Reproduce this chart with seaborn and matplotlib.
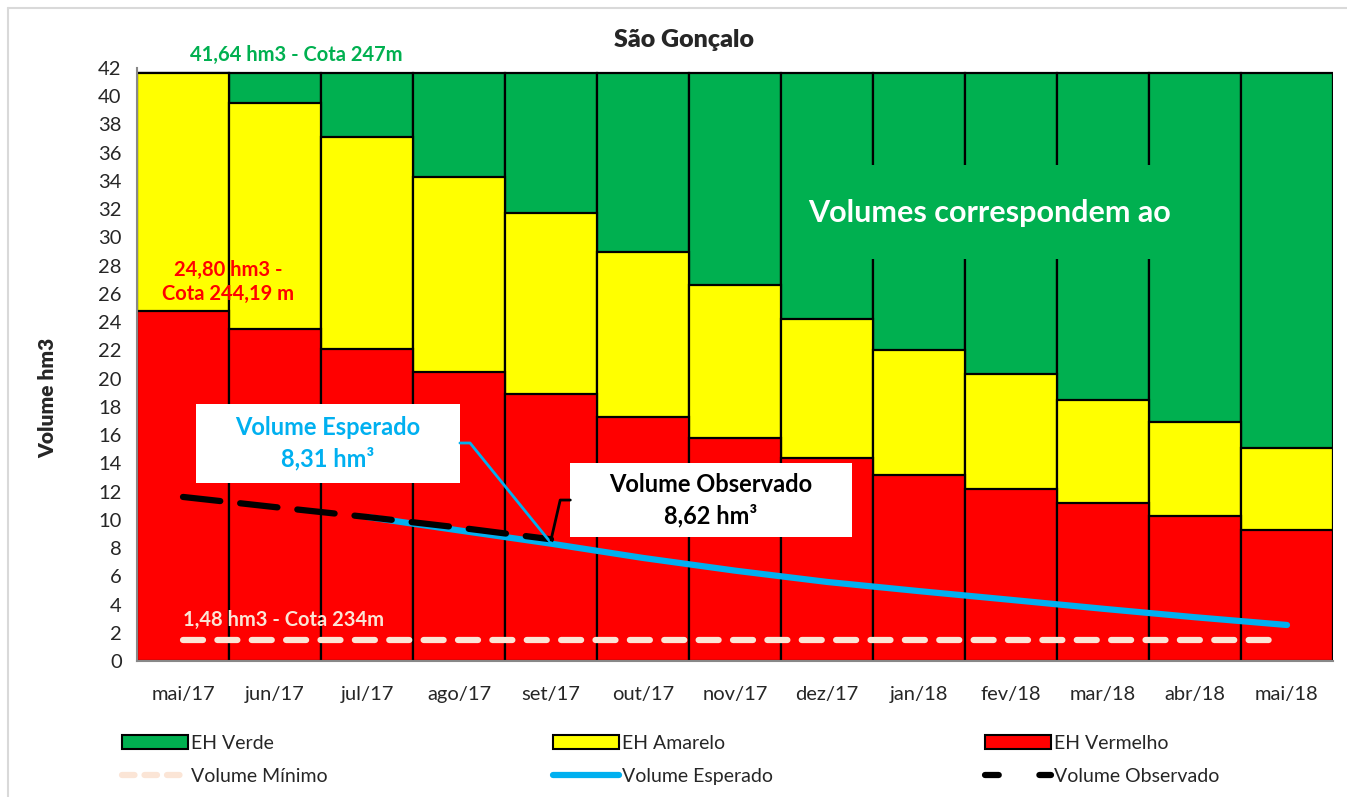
import seaborn as sns
import matplotlib.pyplot as plt
import matplotlib.patches as mpatches
from matplotlib.lines import Line2D
import pandas as pd
import numpy as np

sns.set_style("white")
plt.rcParams["font.family"] = ["Lato", "DejaVu Sans"]

months = ["mai/17", "jun/17", "jul/17", "ago/17", "set/17", "out/17", "nov/17",
          "dez/17", "jan/18", "fev/18", "mar/18", "abr/18", "mai/18"]
eh_vermelho = [24.80, 23.5, 22.1, 20.5, 18.9, 17.3, 15.8, 14.4, 13.2, 12.2, 11.2, 10.3, 9.3]
eh_amarelo_top = [41.64, 39.5, 37.1, 34.3, 31.7, 29.0, 26.6, 24.2, 22.0, 20.3, 18.5, 16.9, 15.1]
eh_verde_top = [41.64] * 13
vol_minimo = 1.48
vol_observado = [11.62, 10.9, 10.2, 9.45, 8.62]          # mai/17 .. set/17
vol_esperado = [10.2, 9.25, 8.31, 7.3, 6.4, 5.6, 4.95, 4.33, 3.7, 3.1, 2.55]  # jul/17 .. mai/18

GREEN = "#00B050"
YELLOW = "#FFFF00"
RED = "#FF0000"
BLUE = "#00B0F0"
PEACH = "#FBE5D6"

df = pd.DataFrame({"mes": months, "vermelho": eh_vermelho,
                   "amarelo": eh_amarelo_top, "verde": eh_verde_top})

fig = plt.figure(figsize=(13.47, 7.97), dpi=100)
ax = fig.add_axes([137 / 1347, 1 - 661 / 797, (1333 - 137) / 1347, (661 - 68) / 797])

for col, c in [("verde", GREEN), ("amarelo", YELLOW), ("vermelho", RED)]:
    sns.barplot(data=df, x="mes", y=col, color=c, width=1, saturation=1,
                edgecolor="black", linewidth=1.6, ax=ax)

pos = np.arange(len(months))
# volume minimo
ax.plot([pos[0], pos[-1] - 0.08], [vol_minimo, vol_minimo], color=PEACH, lw=4.5,
        dashes=(3.2, 2.3), dash_capstyle="round", zorder=5)
# volume esperado
sns.lineplot(x=pos[2:], y=vol_esperado, color=BLUE, lw=4.5, ax=ax, zorder=6,
             solid_capstyle="round")
# volume observado
sns.lineplot(x=pos[:5], y=vol_observado, color="black", lw=4.5, ax=ax, zorder=7,
             dashes=False, linestyle=(0, (6, 3.2)), dash_capstyle="round")

ax.set_xlim(-0.5, len(months) - 0.5)
ax.set_ylim(0, 42)
ax.set_yticks(np.arange(0, 43, 2))
ax.set_xticks(pos)
ax.set_xticklabels(months)
ax.set_xticks(np.arange(-0.5, len(months)), minor=True)
ax.tick_params(axis="x", which="major", length=0, pad=18, labelsize=14.5)
ax.tick_params(axis="x", which="minor", length=7, color="#888888", width=1.5)
ax.tick_params(axis="y", length=7, color="#888888", width=1.5, labelsize=14.5, pad=4)
ax.set_xlabel("")
ax.set_ylabel("")
for s in ["top", "right"]:
    ax.spines[s].set_visible(False)
for s in ["left", "bottom"]:
    ax.spines[s].set_color("#888888")
    ax.spines[s].set_linewidth(1.5)

# annotations
ax.text(0.08, 42.95, "41,64 hm3 - Cota 247m", color=GREEN, fontsize=14.5,
        fontweight="bold", ha="left", va="center", clip_on=False)
ax.text(0.49, 26.85, "24,80 hm3 -\nCota 244,19 m", color=RED, fontsize=14.5,
        fontweight="bold", ha="center", va="center", linespacing=1.25, zorder=8)
ax.text(0.0, 2.9, "1,48 hm3 - Cota 234m", color=PEACH, fontsize=14.5,
        fontweight="bold", ha="left", va="center", zorder=8)

ax.add_patch(mpatches.Rectangle((6.6, 28.5), 4.8, 6.6, facecolor=GREEN,
                                edgecolor="none", zorder=8))
ax.text(6.79, 31.7, "Volumes correspondem ao", color="white", fontsize=22,
        fontweight="bold", ha="left", va="center", zorder=9)

# callouts
ax.add_patch(mpatches.Rectangle((0.141, 12.6), 2.87, 5.6, facecolor="white",
                                edgecolor="none", zorder=9))
ax.text(1.576, 15.45, "Volume Esperado\n8,31 hm³", color=BLUE, fontsize=17,
        fontweight="bold", ha="center", va="center", linespacing=1.4, zorder=10)
ax.plot([3.01, 3.12, pos[4]], [15.44, 15.44, vol_esperado[2] + 0.05], color=BLUE,
        lw=2, zorder=9)

ax.add_patch(mpatches.Rectangle((4.21, 8.78), 3.06, 5.24, facecolor="white",
                                edgecolor="none", zorder=9))
ax.text(5.74, 11.4, "Volume Observado\n8,62 hm³", color="black", fontsize=17,
        fontweight="bold", ha="center", va="center", linespacing=1.4, zorder=10)
ax.plot([4.21, 4.1, pos[4]], [11.4, 11.4, vol_observado[4] - 0.05], color="black",
        lw=2, zorder=9)

fig.text(684 / 1347, 1 - 40 / 797, "São Gonçalo", fontsize=18, fontweight="heavy",
         ha="center", va="center")
fig.text(48 / 1347, 1 - 398 / 797, "Volume hm3", fontsize=15, fontweight="heavy",
         rotation=90, ha="center", va="center")

# outer frame of the chart area
fig.add_artist(Line2D([8 / 1347, 8 / 1347], [0, 1 - 8 / 797], color="#D9D9D9", lw=1.5))
fig.add_artist(Line2D([8 / 1347, 1], [1 - 8 / 797, 1 - 8 / 797], color="#D9D9D9", lw=1.5))

# legends
leg_cols = [
    (122, [mpatches.Patch(facecolor=GREEN, edgecolor="black", lw=1.5),
           Line2D([], [], color=PEACH, lw=4.5, dashes=(2, 1.6), dash_capstyle="round")],
     ["EH Verde", "Volume Mínimo"]),
    (553, [mpatches.Patch(facecolor=YELLOW, edgecolor="black", lw=1.5),
           Line2D([], [], color=BLUE, lw=4.5, solid_capstyle="round")],
     ["EH Amarelo", "Volume Esperado"]),
    (985, [mpatches.Patch(facecolor=RED, edgecolor="black", lw=1.5),
           Line2D([], [], color="black", lw=4.5, dashes=(2.2, 6.5), dash_capstyle="round")],
     ["EH Vermelho", "Volume Observado"]),
]
for x0, hs, ls in leg_cols:
    fig.legend(hs, ls, loc="upper left", bbox_to_anchor=(x0 / 1347, 1 - 735 / 797),
               frameon=False, fontsize=14, handlelength=3.4, handletextpad=0.15,
               borderpad=0, borderaxespad=0, labelspacing=0.8)

plt.savefig("out.png", dpi=100)
plt.close()
